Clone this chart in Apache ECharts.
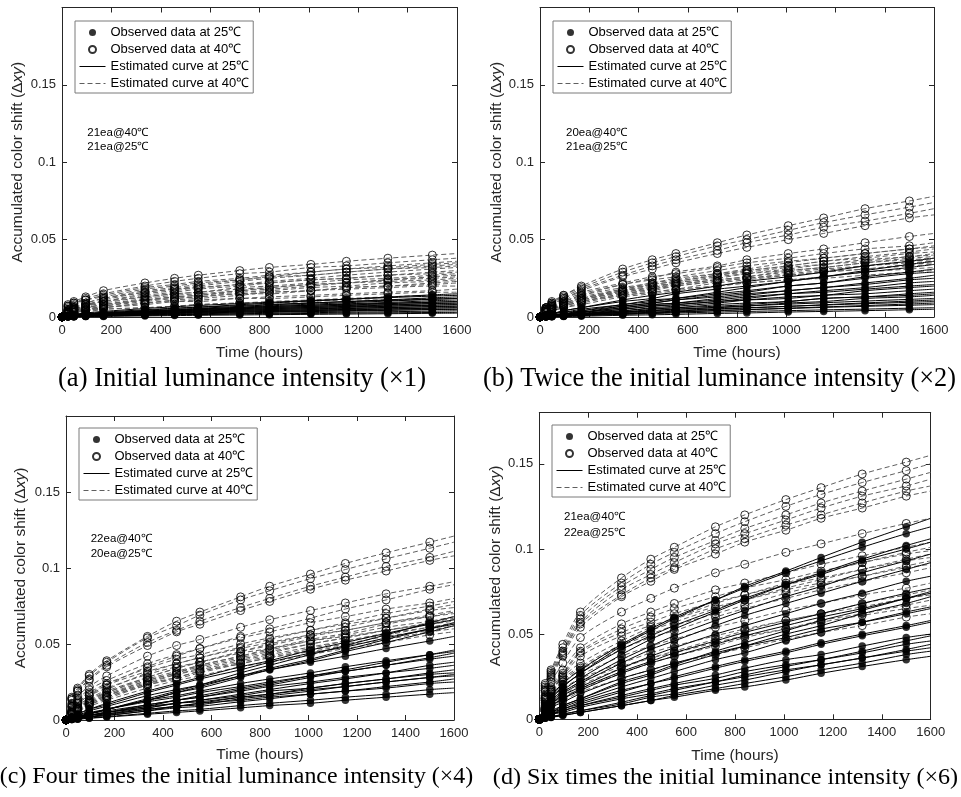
<!DOCTYPE html>
<html><head><meta charset="utf-8">
<script src="https://cdn.jsdelivr.net/npm/echarts@6/dist/echarts.min.js"></script>
<style>html,body{margin:0;padding:0;background:#fff}#c{width:961px;height:797px}</style>
</head><body><div id="c"></div>
<script>
// ---------------- DATA ----------------
// Inspection times (hours) of the observed data
const OBS_HOURS = [0,24,48,96,168,336,456,552,720,840,1008,1152,1320,1500];
// Estimated curves are drawn up to this time
const CURVE_END_HOUR = 1600;
// Each row = one LED unit, values in units of 0.001 (Δxy):
// 14 observed values at OBS_HOURS, then the estimated-curve value at CURVE_END_HOUR.

// (a) x1
const a40 = [
[0,8,10,13,17,22,25,27,30,32,34,36,38,40,41],
[0,7,9,12,15,20,23,25,28,29,32,33,35,37,38],
[0,4,6,9,12,17,19,21,24,26,29,31,33,35,36],
[0,7,9,11,14,19,21,23,25,27,29,31,32,34,35],
[0,4,6,8,11,16,18,20,23,25,27,29,31,33,34],
[0,6,8,11,13,18,20,22,24,26,27,29,31,32,33],
[0,4,6,8,10,15,17,19,21,23,25,27,29,31,32],
[0,4,5,7,10,14,16,18,20,22,24,25,27,29,30],
[0,5,7,9,12,16,18,19,21,22,24,25,27,28,29],
[0,3,5,7,9,13,15,16,19,20,22,24,25,27,28],
[0,2,3,5,7,11,13,14,17,18,20,22,24,26,27],
[0,3,5,6,8,12,14,15,17,19,21,22,24,25,26],
[0,5,6,8,10,13,15,16,18,19,21,22,23,24,25],
[0,3,4,6,8,11,13,14,16,17,19,20,22,23,24],
[0,2,3,4,6,9,11,12,14,16,17,19,20,22,23],
[0,3,4,5,7,10,12,13,15,16,17,19,20,21,22],
[0,4,5,6,8,11,12,13,15,15,17,18,19,20,20],
[0,2,3,4,6,8,10,11,12,13,14,15,16,17,18],
[0,3,4,5,6,9,10,10,12,12,13,14,15,16,16],
[0,2,2,3,5,6,7,8,9,10,11,12,13,14,14],
[0,2,3,4,5,6,7,8,9,9,10,11,11,12,12]
];
const a25 = [
[0,0.5,0.9,1.6,2.5,4.3,5.5,6.4,7.9,9,10.4,11.5,12.9,14.3,15],
[0,1.1,1.7,2.6,3.6,5.5,6.6,7.4,8.7,9.5,10.6,11.5,12.5,13.5,14],
[0,0.5,0.8,1.4,2.1,3.7,4.8,5.6,6.9,7.8,9,10,11.1,12.4,13],
[0,1,1.5,2.2,3.1,4.7,5.7,6.3,7.4,8.1,9.1,9.9,10.7,11.5,12],
[0,0.4,0.7,1.3,2,3.4,4.4,5.1,6.3,7.2,8.3,9.2,10.3,11.4,12],
[0,0.4,0.7,1.2,1.8,3.2,4,4.7,5.8,6.6,7.6,8.5,9.4,10.5,11],
[0,0.8,1.2,1.9,2.6,3.9,4.7,5.3,6.2,6.8,7.6,8.2,8.9,9.6,10],
[0,0.4,0.6,1.1,1.7,2.9,3.7,4.3,5.3,6,6.9,7.7,8.6,9.5,10],
[0,0.3,0.5,0.9,1.5,2.6,3.3,3.8,4.8,5.4,6.2,6.9,7.7,8.6,9],
[0,0.7,1.1,1.7,2.3,3.5,4.2,4.8,5.6,6.1,6.8,7.4,8,8.7,9],
[0,0.3,0.5,0.8,1.3,2.3,2.9,3.4,4.2,4.8,5.5,6.2,6.9,7.6,8],
[0,0.6,1,1.5,2.1,3.1,3.8,4.2,5,5.4,6.1,6.6,7.1,7.7,8],
[0,0.2,0.4,0.7,1.2,2,2.6,3,3.7,4.2,4.8,5.4,6,6.7,7],
[0,0.6,0.9,1.3,1.8,2.7,3.3,3.7,4.3,4.8,5.3,5.7,6.2,6.7,7],
[0,0.2,0.4,0.6,1,1.7,2.2,2.6,3.2,3.6,4.1,4.6,5.1,5.7,6],
[0,0.5,0.7,1.1,1.6,2.4,2.8,3.2,3.7,4.1,4.5,4.9,5.3,5.8,6],
[0,0.2,0.3,0.5,0.8,1.4,1.8,2.1,2.6,3,3.5,3.8,4.3,4.8,5],
[0,0.4,0.6,0.9,1.3,2,2.4,2.6,3.1,3.4,3.8,4.1,4.5,4.8,5],
[0,0.1,0.2,0.4,0.7,1.1,1.5,1.7,2.1,2.4,2.8,3.1,3.4,3.8,4],
[0,0.2,0.4,0.6,0.8,1.2,1.4,1.6,1.9,2,2.3,2.5,2.7,2.9,3],
[0,0.1,0.2,0.3,0.4,0.7,0.9,1.1,1.3,1.5,1.7,1.9,2.1,2.4,2.5]
];
// (b) x2
const b40 = [
[0,6,10,14,20,31,37,41,48,53,59,64,70,75,78],
[0,6,9,14,19,29,35,39,46,50,56,61,66,71,74],
[0,6,9,13,18,27,33,37,43,48,53,58,62,67,70],
[0,5,8,12,17,26,31,35,41,45,50,54,59,64,66],
[0,4,7,10,14,21,25,29,33,37,41,44,48,52,54],
[0,6,8,12,16,22,26,28,32,35,38,41,44,46,48],
[0,4,6,9,12,18,22,24,28,31,35,38,41,44,46],
[0,5,8,11,15,21,24,26,30,33,36,38,41,44,45],
[0,4,5,8,11,17,21,23,27,30,33,36,39,42,44],
[0,5,7,10,14,19,22,25,28,30,33,36,38,41,42],
[0,3,5,8,11,16,19,22,25,28,31,34,37,39,41],
[0,5,7,10,13,18,21,23,27,29,32,34,36,39,40],
[0,3,5,7,10,15,18,21,24,26,30,32,35,38,39],
[0,5,7,9,12,17,20,22,26,28,30,32,35,37,38],
[0,3,5,7,10,15,17,20,23,25,28,30,33,36,37],
[0,4,6,9,12,17,19,21,24,26,29,31,33,35,36],
[0,3,4,6,9,14,16,18,22,24,27,29,31,34,35],
[0,4,6,8,11,16,18,20,23,25,27,29,31,33,34],
[0,3,4,6,8,13,15,17,20,22,24,26,29,31,32],
[0,4,5,7,10,14,16,18,20,22,24,25,27,29,30]
];
const b25 = [
[0,1,2,4,6,11,14,16,20,23,26,29,33,36,38],
[0,0.5,1,2,4,8,10,12,16,19,23,26,30,34,36],
[0,1,2,4,6,10,12,15,18,20,23,26,29,32,34],
[0,0.5,1,2,3,7,9,11,14,16,20,22,26,29,31],
[0,1,2,3,5,8,11,12,15,17,20,22,25,28,29],
[0,0.4,1,2,3,6,8,9,12,14,17,19,22,25,27],
[0,1,2,3,4,7,9,11,13,15,17,19,21,24,25],
[0,0.3,0.7,1,2,5,7,8,10,12,15,17,19,22,23],
[0,1,1,2,3,6,8,9,11,13,15,16,18,20,21],
[0,0.3,0.6,1,2,4,6,7,9,11,13,14,17,19,20],
[0,0.6,1,2,3,5,7,8,10,11,12,14,15,17,18],
[0,0.2,0.5,1,2,3,5,6,7,8,10,12,13,15,16],
[0,0.5,1,2,2.5,4,5.5,6,8,9,10,12,13,14,15],
[0,0.2,0.4,1,1.5,3,4,5,6,7,9,10,12,13,14],
[0,0.4,0.7,1.3,2,3.4,4.4,5.1,6.3,7.2,8.3,9.2,10.3,11.4,12],
[0,0.2,0.3,0.7,1.2,2.3,3.1,3.8,5,5.8,6.9,7.9,9.1,10.3,11],
[0,0.4,0.6,1.1,1.7,2.9,3.7,4.3,5.3,6,6.9,7.7,8.6,9.5,10],
[0,0.1,0.3,0.5,0.9,1.9,2.6,3.1,4.1,4.7,5.7,6.5,7.4,8.4,9],
[0,0.3,0.5,0.8,1.3,2.3,2.9,3.4,4.2,4.8,5.5,6.2,6.9,7.6,8],
[0,0.2,0.4,0.6,1,1.7,2.2,2.6,3.2,3.6,4.1,4.6,5.1,5.7,6],
[0,0.1,0.2,0.3,0.5,1.1,1.4,1.7,2.3,2.6,3.2,3.6,4.1,4.7,5]
];
// (c) x4
const c40 = [
[0,15,21,30,39,55,65,71,81,88,96,103,110,117,121],
[0,14,20,29,38,54,62,69,79,85,93,99,106,113,117],
[0,14,19,27,36,51,59,65,74,80,88,94,101,107,111],
[0,13,19,26,35,49,58,63,72,78,86,92,98,105,108],
[0,11,16,22,29,42,49,53,61,66,72,77,83,88,91],
[0,7,11,16,23,35,42,47,55,60,67,73,79,86,89],
[0,10,14,20,26,37,43,47,54,58,64,68,73,77,80],
[0,6,10,14,20,31,37,41,48,53,59,64,70,75,78],
[0,5,8,12,18,28,34,38,45,50,56,61,67,73,76],
[0,9,13,18,24,34,40,43,50,54,59,63,67,72,74],
[0,6,9,13,19,28,34,38,45,49,55,59,64,69,72],
[0,5,7,11,16,26,31,36,42,47,53,57,63,68,71],
[0,9,12,17,23,32,37,41,47,51,56,59,64,68,70],
[0,5,8,13,18,27,32,36,42,46,52,56,61,65,68],
[0,4,7,11,15,24,30,34,40,44,50,54,59,64,67],
[0,5,8,12,17,26,31,35,41,45,50,54,59,63,66],
[0,8,11,16,21,30,35,38,44,47,52,55,59,63,65],
[0,4,7,10,15,23,28,32,38,42,47,52,57,61,64],
[0,5,8,12,16,25,30,33,39,43,48,52,56,61,63],
[0,4,6,10,14,23,27,31,37,41,46,50,55,59,62],
[0,5,7,11,16,24,28,32,37,41,45,49,53,58,60],
[0,4,6,9,13,21,26,29,35,38,43,47,51,56,58]
];
const c25 = [
[0,1,2,4,7,14,19,23,31,36,43,49,56,64,68],
[0,2,4,7,11,19,24,28,35,39,46,51,57,63,66],
[0,1,2,4,7,13,18,22,29,34,40,46,53,60,64],
[0,2,4,7,10,18,23,27,33,38,44,48,54,60,63],
[0,1,2,4,7,13,18,21,28,33,39,45,51,58,62],
[0,2,3,6,9,16,20,23,29,33,38,42,47,52,55],
[0,0.7,1.4,3,5,10,13,16,21,24,29,33,38,43,46],
[0,2,3,5,7,13,16,19,24,27,31,35,39,43,45],
[0,0.7,1.3,3,5,9,13,15,20,23,28,32,36,41,44],
[0,1.5,3,4,7,12,15,18,22,25,29,32,36,40,42],
[0,0.6,1.1,2,4,8,11,13,17,20,24,27,31,36,38],
[0,1.3,2,4,6,10,13,15,19,22,25,28,31,34,36],
[0,0.5,1,2,3.5,7,9,11,15,17,21,24,27,31,33],
[0,1.1,1.9,3,5,9,11,13,16,19,21,24,27,30,31],
[0,0.5,0.9,2,3,6,9,10,14,16,19,22,25,28,30],
[0,1,2,3,5,8,11,12,15,17,20,22,25,28,29],
[0,0.4,1,2,3,6,8,9,12,14,17,19,22,25,27],
[0,1,2,3,4,7,9,11,13,15,17,19,21,24,25],
[0,0.3,0.6,1.3,2.2,4.4,6,7,9.5,11,13,15,17,20,21],
[0,0.3,0.5,1.1,1.9,3.8,5,6,8,9.5,11,13,15,17,18]
];
// (d) x6
const d40 = [
[0,21,29,44,63,83,94,101,113,120,129,136,144,151,155],
[0,20,28,42,61,80,91,98,109,116,125,132,139,146,150],
[0,19,27,40,59,78,88,95,105,112,120,127,134,141,145],
[0,18,26,39,57,76,85,92,103,109,117,124,131,137,141],
[0,17,25,38,56,73,83,89,100,106,114,120,127,134,137],
[0,17,24,37,54,72,81,88,97,104,111,118,124,131,134],
[0,16,22,33,48,63,71,77,86,91,98,103,109,115,118],
[0,14,19,29,42,56,63,68,76,80,86,91,96,101,104],
[0,12,17,25,33,46,54,59,68,73,80,86,92,98,101],
[0,13,18,27,40,53,60,65,72,77,82,87,92,97,99],
[0,12,17,24,31,44,52,57,65,70,77,82,88,94,97],
[0,13,17,26,39,51,57,62,69,73,79,83,88,93,95],
[0,11,16,23,30,43,50,55,62,67,74,79,84,90,93],
[0,12,16,25,37,49,55,59,66,70,76,80,84,89,91],
[0,11,15,22,29,41,48,52,60,65,71,76,81,86,89],
[0,10,14,20,26,37,43,47,54,58,64,68,73,77,80],
[0,6,9,14,20,30,36,40,47,52,58,62,68,73,76],
[0,9,13,18,24,33,39,43,49,53,58,62,66,71,73],
[0,6,9,13,18,27,33,37,43,48,53,58,62,67,70],
[0,8,12,16,22,31,36,39,45,49,53,57,61,65,67],
[0,5,8,11,16,24,29,33,38,42,47,51,55,60,62]
];
const d25 = [
[0,8,12,19,27,43,52,59,70,78,87,95,104,113,118],
[0,9,14,21,29,44,53,60,70,77,86,93,101,109,113],
[0,7,11,17,24,38,47,53,63,70,79,86,94,102,106],
[0,8,13,19,27,41,49,55,64,71,79,85,93,100,104],
[0,6,10,16,22,35,43,49,58,64,72,78,86,93,97],
[0,6,9,15,21,33,41,46,55,61,68,74,81,88,92],
[0,5,9,14,19,30,37,42,50,55,62,68,74,81,84],
[0,5,8,12,18,28,34,39,46,51,57,62,68,74,77],
[0,3,5,8,12,22,27,32,40,45,52,58,64,71,75],
[0,5,8,12,17,27,33,37,44,49,55,60,65,71,74],
[0,3,4,8,12,21,26,31,38,43,50,55,62,68,72],
[0,2,4,7,11,19,24,28,35,39,46,51,57,63,66],
[0,4,7,10,15,24,29,33,39,43,48,53,57,62,65],
[0,2,4,6,10,17,21,25,31,35,40,45,50,55,58],
[0,2,3,6,9,16,21,24,30,34,39,44,49,54,57],
[0,2,3,5,8,14,18,21,26,30,35,38,43,48,50],
[0,1,1.5,3,5,10,14,17,22,26,31,35,40,46,49],
[0,2,3,5,8,13,17,20,24,28,32,35,39,44,46],
[0,0.7,1.3,3,5,9,13,15,20,23,28,32,36,41,44],
[0,1.5,3,4,7,12,15,18,22,25,29,32,36,40,42],
[0,0.6,1.2,2.4,4,8,11,14,18,21,25,29,33,38,40],
[0,0.6,1.1,2.2,4,8,11,13,17,19,23,27,31,35,37]
];

const CAPTIONS = [
  '(a) Initial luminance intensity (×1)',
  '(b) Twice the initial luminance intensity (×2)',
  '(c) Four times the initial luminance intensity (×4)',
  '(d) Six times the initial luminance intensity (×6)'
];
const NOTES = [
  ['21ea@40℃','21ea@25℃'],
  ['20ea@40℃','21ea@25℃'],
  ['22ea@40℃','20ea@25℃'],
  ['21ea@40℃','22ea@25℃']
];
const LEGEND_NAMES = ['Observed data at 25℃','Observed data at 40℃','Estimated curve at 25℃','Estimated curve at 40℃'];
const X_NAME = 'Time (hours)';
const Y_NAME = 'Accumulated color shift (Δ{i|xy})';
const Y_MAX = [0.2, 0.2, 0.2, 0.18];
const PANEL_ROWS = [[a40,a25],[b40,b25],[c40,c25],[d40,d25]];

// ---------------- LAYOUT / STYLE ----------------
const INK = '#262626';
const SANS = '"Liberation Sans", Arial, sans-serif';
const SERIF = '"Liberation Serif", "Times New Roman", serif';
const LAYOUT = [
  {grid:{left:62, top:7.5, width:395, height:309.5}, yGap:36, xGap:28, leg:{left:75, top:21}, note:{x:87.3, y:[132.7,147.3]}, cap:{x:242, y:379, size:26.6}},
  {grid:{left:540, top:7.5, width:394, height:309.5}, yGap:34, xGap:28, leg:{left:553, top:21}, note:{x:566, y:[132.7,147.3]}, cap:{x:719.5, y:379, size:26.3}},
  {grid:{left:66, top:416, width:388, height:304}, yGap:37, xGap:27, leg:{left:79, top:428}, note:{x:90.7, y:[539,554]}, cap:{x:236.5, y:777, size:23.9}},
  {grid:{left:539.3, top:412.7, width:391.4, height:306.6}, yGap:33, xGap:28, leg:{left:552, top:425}, note:{x:564, y:[516.7,533.3]}, cap:{x:725.5, y:778, size:24.1}}
];

const chart = echarts.init(document.getElementById('c'), null, {renderer:'canvas', width:961, height:797});
const CURVE_HOURS = OBS_HOURS.concat([CURVE_END_HOUR]);
const axisLine = {show:true, onZero:false, lineStyle:{color:INK, width:1}};
const tick = {show:true, inside:true, length:5, lineStyle:{color:INK, width:1}};
const COL40 = '#5f5f5f';

const grids = [], xAxes = [], yAxes = [], series = [], legends = [], graphics = [];
LAYOUT.forEach((L, i) => {
  grids.push(Object.assign({containLabel:false}, L.grid));
  xAxes.push({gridIndex:i, type:'value', min:0, max:1600, interval:200, position:'bottom',
    axisLine, axisTick:tick, splitLine:{show:false},
    axisLabel:{margin:7, fontSize:13, color:INK, fontFamily:SANS, formatter: v => String(v)},
    name:X_NAME, nameLocation:'middle', nameGap:L.xGap,
    nameTextStyle:{fontSize:15.5, color:INK, fontFamily:SANS}});
  xAxes.push({gridIndex:i, type:'value', min:0, max:1600, interval:200, position:'top',
    axisLine, axisTick:tick, splitLine:{show:false}, axisLabel:{show:false}});
  yAxes.push({gridIndex:i, type:'value', min:0, max:Y_MAX[i], interval:0.05, position:'left',
    axisLine, axisTick:tick, splitLine:{show:false},
    axisLabel:{margin:6, fontSize:13, color:INK, fontFamily:SANS,
      formatter: v => (v > 0.16 ? '' : String(+(+v).toFixed(2)))},
    name:Y_NAME, nameLocation:'middle', nameGap:L.yGap,
    nameTextStyle:{fontSize:15.5, color:INK, fontFamily:SANS,
      rich:{i:{fontSize:15.5, color:INK, fontFamily:SANS, fontStyle:'italic'}}}});
  yAxes.push({gridIndex:i, type:'value', min:0, max:Y_MAX[i], interval:0.05, position:'right',
    axisLine, axisTick:tick, splitLine:{show:false}, axisLabel:{show:false}});

  const [r40, r25] = PANEL_ROWS[i];
  const xi = 2*i, yi = 2*i;
  r40.forEach(row => series.push({type:'line', name:LEGEND_NAMES[3], xAxisIndex:xi, yAxisIndex:yi,
    data: CURVE_HOURS.map((h,k)=>[h, row[k]/1000]), smooth:0.3, symbol:'none', silent:true,
    itemStyle:{color:COL40}, lineStyle:{color:COL40, width:1, type:[5,3]}, z:2}));
  r25.forEach(row => series.push({type:'line', name:LEGEND_NAMES[2], xAxisIndex:xi, yAxisIndex:yi,
    data: CURVE_HOURS.map((h,k)=>[h, row[k]/1000]), smooth:0.3, symbol:'none', silent:true,
    itemStyle:{color:'#000'}, lineStyle:{color:'#000', width:1, type:'solid'}, z:2}));
  series.push({type:'scatter', name:LEGEND_NAMES[1], xAxisIndex:xi, yAxisIndex:yi, symbol:'circle', symbolSize:8,
    data: r40.flatMap(row => OBS_HOURS.map((h,k)=>[h, row[k]/1000])), silent:true,
    itemStyle:{color:'rgba(255,255,255,0)', borderColor:'#000', borderWidth:1}, z:3});
  series.push({type:'scatter', name:LEGEND_NAMES[0], xAxisIndex:xi, yAxisIndex:yi, symbol:'circle', symbolSize:7.5,
    data: r25.flatMap(row => OBS_HOURS.map((h,k)=>[h, row[k]/1000])), silent:true,
    itemStyle:{color:'#000', borderColor:'#000', borderWidth:0}, z:4});

  legends.push({left:L.leg.left, top:L.leg.top, orient:'vertical',
    data:[
      {name:LEGEND_NAMES[0]},
      {name:LEGEND_NAMES[1]},
      {name:LEGEND_NAMES[2], itemStyle:{opacity:0}},
      {name:LEGEND_NAMES[3], itemStyle:{opacity:0}}
    ],
    itemWidth:26, itemHeight:7, itemGap:4, padding:[5,4,3,4], selectedMode:false,
    lineStyle:{width:1},
    borderColor:'#7a7a7a', borderWidth:1, backgroundColor:'#fff',
    textStyle:{fontSize:13, color:'#000', fontFamily:SANS}});

  NOTES[i].forEach((t, k) => graphics.push({type:'text', x:L.note.x, y:L.note.y[k], silent:true,
    style:{text:t, fontSize:11.5, fontFamily:SANS, fill:'#000', align:'left', verticalAlign:'middle',
      textAlign:'left', textVerticalAlign:'middle'}}));
  graphics.push({type:'text', x:L.cap.x, y:L.cap.y, silent:true,
    style:{text:CAPTIONS[i], fontSize:L.cap.size, fontFamily:SERIF, fill:'#000', align:'center', verticalAlign:'middle',
      textAlign:'center', textVerticalAlign:'middle'}});
});

chart.setOption({
  animation:false,
  backgroundColor:'#fff',
  grid:grids, xAxis:xAxes, yAxis:yAxes, series, legend:legends, graphic:graphics
});
</script></body></html>
